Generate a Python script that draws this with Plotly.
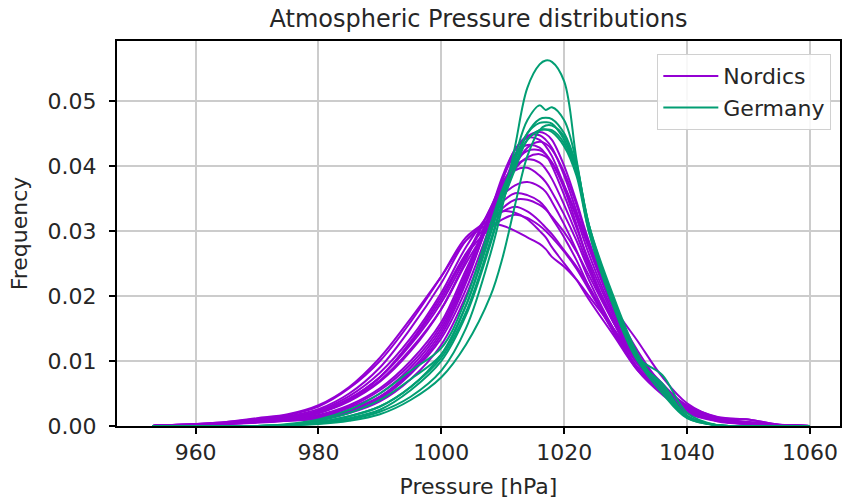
import plotly.graph_objects as go

# Pressure grid (hPa) at which the density curves were read
pressure = [953, 955, 960, 965, 970, 975, 980, 985, 990, 995, 1000, 1004, 1008, 1010, 1012,
            1014, 1016, 1017, 1018, 1020, 1022, 1024, 1028, 1032, 1036, 1040, 1045, 1050, 1055, 1060]

# Nordic stations (density estimates)
N01 = [0, 0.0001, 0.0002, 0.0003, 0.0006, 0.0008, 0.0012, 0.0022, 0.0042, 0.0080, 0.0135, 0.0210, 0.0310, 0.0365, 0.0415, 0.0445, 0.0452, 0.0449, 0.0440, 0.0400, 0.0345, 0.0285, 0.0190, 0.0110, 0.0060, 0.0025, 0.0008, 0.0003, 0.0001, 0]
N02 = [0, 0.0001, 0.0002, 0.0004, 0.0007, 0.0009, 0.0015, 0.0028, 0.0050, 0.0090, 0.0150, 0.0230, 0.0330, 0.0385, 0.0425, 0.0446, 0.0447, 0.0440, 0.0428, 0.0385, 0.0330, 0.0275, 0.0180, 0.0105, 0.0058, 0.0022, 0.0008, 0.0004, 0.0001, 0]
N03 = [0, 0.0001, 0.0002, 0.0004, 0.0006, 0.0009, 0.0014, 0.0025, 0.0045, 0.0082, 0.0140, 0.0220, 0.0325, 0.0380, 0.0425, 0.0443, 0.0440, 0.0430, 0.0415, 0.0370, 0.0320, 0.0265, 0.0175, 0.0108, 0.0065, 0.0030, 0.0010, 0.0004, 0.0001, 0]
N04 = [0, 0.0001, 0.0002, 0.0003, 0.0005, 0.0008, 0.0011, 0.0020, 0.0038, 0.0072, 0.0125, 0.0200, 0.0300, 0.0355, 0.0400, 0.0428, 0.0437, 0.0434, 0.0425, 0.0390, 0.0340, 0.0280, 0.0185, 0.0115, 0.0062, 0.0026, 0.0009, 0.0003, 0.0001, 0]
N05 = [0, 0.0001, 0.0002, 0.0004, 0.0007, 0.0010, 0.0016, 0.0030, 0.0055, 0.0095, 0.0155, 0.0235, 0.0330, 0.0380, 0.0418, 0.0432, 0.0428, 0.0418, 0.0400, 0.0355, 0.0305, 0.0255, 0.0170, 0.0100, 0.0055, 0.0022, 0.0008, 0.0003, 0.0001, 0]
N06 = [0, 0.0001, 0.0002, 0.0003, 0.0006, 0.0009, 0.0013, 0.0024, 0.0045, 0.0085, 0.0145, 0.0225, 0.0320, 0.0370, 0.0405, 0.0423, 0.0424, 0.0418, 0.0405, 0.0365, 0.0310, 0.0250, 0.0160, 0.0095, 0.0052, 0.0020, 0.0007, 0.0003, 0.0001, 0]
N07 = [0, 0.0001, 0.0002, 0.0004, 0.0007, 0.0010, 0.0017, 0.0032, 0.0058, 0.0100, 0.0160, 0.0240, 0.0320, 0.0360, 0.0395, 0.0413, 0.0418, 0.0414, 0.0405, 0.0370, 0.0325, 0.0275, 0.0185, 0.0130, 0.0075, 0.0035, 0.0013, 0.0010, 0.0002, 0]
N08 = [0, 0.0001, 0.0002, 0.0004, 0.0008, 0.0011, 0.0020, 0.0038, 0.0068, 0.0115, 0.0180, 0.0255, 0.0335, 0.0375, 0.0400, 0.0410, 0.0405, 0.0395, 0.0380, 0.0340, 0.0295, 0.0245, 0.0165, 0.0100, 0.0058, 0.0028, 0.0010, 0.0004, 0.0001, 0]
N09 = [0, 0.0001, 0.0002, 0.0004, 0.0008, 0.0012, 0.0022, 0.0042, 0.0075, 0.0125, 0.0190, 0.0260, 0.0335, 0.0370, 0.0393, 0.0397, 0.0385, 0.0375, 0.0360, 0.0325, 0.0285, 0.0240, 0.0160, 0.0098, 0.0055, 0.0025, 0.0010, 0.0005, 0.0001, 0]
N10 = [0, 0.0001, 0.0002, 0.0005, 0.0009, 0.0013, 0.0024, 0.0046, 0.0082, 0.0135, 0.0205, 0.0275, 0.0330, 0.0355, 0.0370, 0.0375, 0.0368, 0.0360, 0.0345, 0.0310, 0.0270, 0.0225, 0.0150, 0.0090, 0.0052, 0.0025, 0.0011, 0.0006, 0.0001, 0]
N11 = [0, 0.0001, 0.0003, 0.0005, 0.0010, 0.0015, 0.0026, 0.0050, 0.0090, 0.0150, 0.0220, 0.0285, 0.0320, 0.0345, 0.0358, 0.0355, 0.0345, 0.0335, 0.0320, 0.0290, 0.0255, 0.0215, 0.0145, 0.0085, 0.0048, 0.0022, 0.0010, 0.0005, 0.0001, 0]
N12 = [0, 0.0001, 0.0002, 0.0004, 0.0008, 0.0012, 0.0020, 0.0040, 0.0070, 0.0118, 0.0180, 0.0250, 0.0310, 0.0335, 0.0348, 0.0348, 0.0340, 0.0333, 0.0322, 0.0298, 0.0268, 0.0232, 0.0160, 0.0100, 0.0060, 0.0030, 0.0012, 0.0005, 0.0001, 0]
N13 = [0, 0.0001, 0.0003, 0.0006, 0.0011, 0.0017, 0.0030, 0.0058, 0.0100, 0.0160, 0.0230, 0.0290, 0.0318, 0.0330, 0.0337, 0.0330, 0.0315, 0.0305, 0.0295, 0.0270, 0.0245, 0.0215, 0.0150, 0.0095, 0.0055, 0.0027, 0.0012, 0.0006, 0.0002, 0]
N14 = [0, 0.0001, 0.0002, 0.0005, 0.0009, 0.0013, 0.0022, 0.0042, 0.0075, 0.0128, 0.0195, 0.0262, 0.0305, 0.0318, 0.0325, 0.0320, 0.0308, 0.0300, 0.0290, 0.0268, 0.0242, 0.0210, 0.0145, 0.0088, 0.0052, 0.0024, 0.0011, 0.0005, 0.0001, 0]
N15 = [0, 0.0001, 0.0003, 0.0006, 0.0012, 0.0018, 0.0032, 0.0060, 0.0105, 0.0165, 0.0230, 0.0285, 0.0310, 0.0308, 0.0300, 0.0290, 0.0280, 0.0272, 0.0260, 0.0245, 0.0225, 0.0200, 0.0150, 0.0100, 0.0062, 0.0032, 0.0014, 0.0010, 0.0002, 0]
N16 = [0, 0.0001, 0.0002, 0.0004, 0.0008, 0.0012, 0.0020, 0.0040, 0.0075, 0.0130, 0.0200, 0.0265, 0.0315, 0.0330, 0.0328, 0.0318, 0.0300, 0.0290, 0.0275, 0.0250, 0.0225, 0.0195, 0.0140, 0.0085, 0.0050, 0.0022, 0.0010, 0.0005, 0.0001, 0]

# German stations (density estimates)
G01 = [0, 0, 0, 0, 0, 0.0001, 0.0004, 0.0010, 0.0022, 0.0045, 0.0085, 0.0150, 0.0265, 0.0340, 0.0430, 0.0520, 0.0556, 0.0562, 0.0560, 0.0530, 0.0410, 0.0310, 0.0185, 0.0100, 0.0050, 0.0012, 0.0001, 0, 0, 0]
G02 = [0, 0, 0, 0, 0, 0.0001, 0.0006, 0.0015, 0.0030, 0.0060, 0.0110, 0.0185, 0.0295, 0.0355, 0.0415, 0.0470, 0.0493, 0.0486, 0.0490, 0.0470, 0.0405, 0.0305, 0.0190, 0.0105, 0.0055, 0.0014, 0.0001, 0, 0, 0]
G03 = [0, 0, 0, 0, 0, 0.0001, 0.0005, 0.0012, 0.0025, 0.0055, 0.0100, 0.0170, 0.0280, 0.0345, 0.0400, 0.0450, 0.0472, 0.0474, 0.0472, 0.0450, 0.0400, 0.0310, 0.0195, 0.0105, 0.0060, 0.0015, 0.0001, 0, 0, 0]
G04 = [0, 0, 0, 0, 0, 0.0002, 0.0008, 0.0020, 0.0040, 0.0072, 0.0110, 0.0185, 0.0300, 0.0360, 0.0410, 0.0450, 0.0466, 0.0467, 0.0465, 0.0440, 0.0395, 0.0300, 0.0185, 0.0100, 0.0065, 0.0016, 0.0001, 0, 0, 0]
G05 = [0, 0, 0, 0, 0, 0.0001, 0.0003, 0.0008, 0.0018, 0.0040, 0.0075, 0.0125, 0.0200, 0.0260, 0.0340, 0.0415, 0.0455, 0.0462, 0.0462, 0.0445, 0.0395, 0.0310, 0.0200, 0.0110, 0.0055, 0.0013, 0.0001, 0, 0, 0]
G06 = [0, 0, 0, 0, 0, 0.0002, 0.0006, 0.0015, 0.0030, 0.0060, 0.0105, 0.0175, 0.0285, 0.0345, 0.0395, 0.0440, 0.0455, 0.0456, 0.0452, 0.0430, 0.0385, 0.0300, 0.0185, 0.0105, 0.0078, 0.0020, 0.0001, 0, 0, 0]
G07 = [0, 0, 0, 0, 0, 0.0003, 0.0010, 0.0025, 0.0050, 0.0085, 0.0120, 0.0195, 0.0310, 0.0365, 0.0405, 0.0440, 0.0455, 0.0456, 0.0455, 0.0435, 0.0390, 0.0305, 0.0190, 0.0100, 0.0060, 0.0015, 0.0001, 0, 0, 0]

nordics = [N01, N02, N03, N04, N05, N06, N07, N08, N09, N10, N11, N12, N13, N14, N15, N16]
germany = [G01, G02, G03, G04, G05, G06, G07]

group_names = ["Nordics", "Germany"]
group_colors = ["#9400D3", "#029E73"]

x_ticks = [960, 980, 1000, 1020, 1040, 1060]
y_ticks = [0.00, 0.01, 0.02, 0.03, 0.04, 0.05]

fig = go.Figure()
for name, color, curves in zip(group_names, group_colors, [nordics, germany]):
    for i, c in enumerate(curves):
        fig.add_trace(go.Scatter(
            x=pressure, y=c, mode="lines", name=name, legendgroup=name,
            showlegend=(i == 0),
            line=dict(color=color, width=2, shape="spline", smoothing=1.0),
        ))

font_family = "DejaVu Sans"
txt = "#262626"
fig.update_layout(
    width=844, height=504,
    margin=dict(l=117, r=2, t=41, b=78),
    paper_bgcolor="white", plot_bgcolor="white",
    font=dict(family=font_family, size=22, color=txt),
    title=dict(text="Atmospheric Pressure distributions", x=0.567, xanchor="center",
               y=0.964, yanchor="middle", font=dict(size=24, color=txt)),
    legend=dict(x=0.988, y=0.966, xanchor="right", yanchor="top",
                bgcolor="rgba(255,255,255,0.85)", bordercolor="#d0d0d0", borderwidth=1,
                font=dict(size=22, color=txt), tracegroupgap=0, itemwidth=55),
    showlegend=True,
)
fig.update_xaxes(
    range=[947.2, 1064.9], tickvals=x_ticks, ticktext=[str(v) for v in x_ticks],
    showgrid=True, gridcolor="#cccccc", gridwidth=1.5,
    showline=True, linecolor="black", linewidth=2, mirror=True,
    ticks="outside", ticklen=6, tickwidth=1.5, tickcolor="black",
    ticklabelstandoff=0,
    title=dict(text="Pressure [hPa]", font=dict(size=22), standoff=14),
    zeroline=False,
)
fig.update_yaxes(
    range=[0, 0.0592], tickvals=y_ticks, ticktext=[f"{v:.2f}" for v in y_ticks],
    showgrid=True, gridcolor="#cccccc", gridwidth=1.5,
    showline=True, linecolor="black", linewidth=2, mirror=True,
    ticks="outside", ticklen=6, tickwidth=1.5, tickcolor="black",
    ticklabelstandoff=8,
    title=dict(text="Frequency", font=dict(size=22), standoff=14),
    zeroline=False,
)

fig.write_html("out.html")
